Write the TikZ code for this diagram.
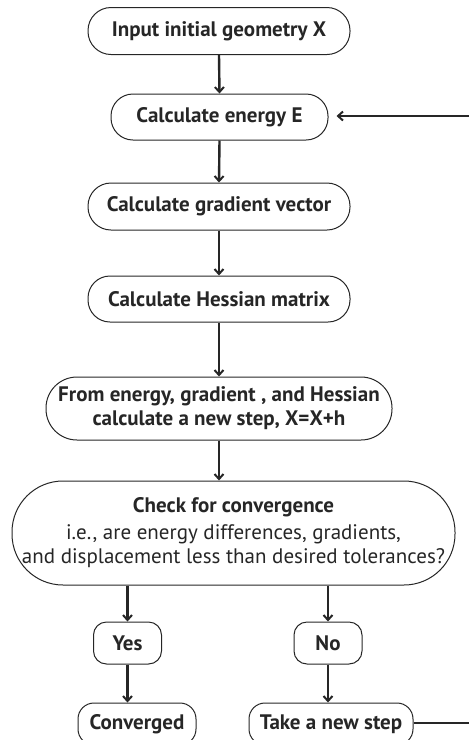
\documentclass[tikz,border=0pt]{standalone}
\usepackage{fontspec}
\setmainfont{PT Sans}
\usetikzlibrary{arrows.meta}
\begin{document}
\begin{tikzpicture}[x=1pt,y=-1pt,
  box/.style={draw=black!85, line width=1pt, align=center, inner sep=0pt,
    font=\fontsize{21}{24}\selectfont\bfseries, text=black!85},
  conn/.style={line width=2.4pt, draw=black!85,
    -{Straight Barb[length=5pt,width=9pt,line width=2pt]}},
  plain/.style={line width=2.4pt, draw=black!85}]
\useasboundingbox (0,0) rectangle (469,740);
\node[box, minimum width=262pt, minimum height=47pt, rounded corners=23pt] (n1) at (219,31) {Input initial geometry X};
\node[box, minimum width=217pt, minimum height=46pt, rounded corners=22pt] (n2) at (219.5,117) {Calculate energy E};
\node[box, minimum width=262pt, minimum height=47pt, rounded corners=23pt] (n3) at (219,206.5) {Calculate gradient vector};
\node[box, minimum width=262pt, minimum height=46pt, rounded corners=22pt] (n4) at (219,299) {Calculate Hessian matrix};
\node[box, minimum width=346pt, minimum height=63pt, rounded corners=31pt] (n5) at (219,408.5) {From energy, gradient , and Hessian\\calculate a new step, X=X+h};
\node[box, minimum width=443pt, minimum height=104pt, rounded corners=51pt] (n6) at (233.5,533)
  {Check for convergence\\[3pt]{\mdseries i.e., are energy differences, gradients,}\\{\mdseries and displacement less than desired tolerances?}};
\node[box, minimum width=68pt, minimum height=42pt, rounded corners=13pt] (yes) at (127.5,643) {Yes};
\node[box, minimum width=68pt, minimum height=42pt, rounded corners=13pt] (no) at (328,643) {No};
\node[box, minimum width=118pt, minimum height=42pt, rounded corners=16pt] (conv) at (137,724) {Converged};
\node[box, minimum width=164pt, minimum height=42pt, rounded corners=16pt] (take) at (331,724) {Take a new step};
\coordinate (r1) at (469,723);
\coordinate (r2) at (469,116);
\draw[conn] (n1.south) -- (n2.north);
\draw[conn] (n2.south) -- (n3.north);
\draw[conn] (n3.south) -- (n4.north);
\draw[conn] (n4.south) -- (n5.north);
\draw[conn] (n5.south) -- (n5.south |- n6.north);
\draw[conn] (yes.north |- n6.south) -- (yes.north);
\draw[conn] (no.north |- n6.south) -- (no.north);
\draw[conn] (yes.south) -- (yes.south |- conv.north);
\draw[conn] (no.south) -- (no.south |- take.north);
\draw[plain] (take.east |- r1) -- (r1);
\draw[conn, shorten >=8pt] (r2) -- (r2 -| n2.east);
\end{tikzpicture}
\end{document}
